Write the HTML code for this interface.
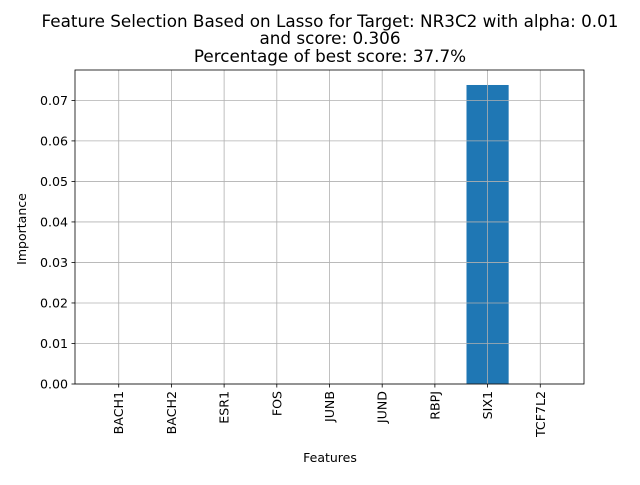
<!DOCTYPE html>
<html><head><meta charset="utf-8"><style>
body{margin:0;background:#fff;font-family:"Liberation Sans","DejaVu Sans",sans-serif;}
svg text{font-family:"DejaVu Sans","Liberation Sans",sans-serif;}
</style></head><body>
<svg id="chart" width="640" height="480">
<text x="330" y="27" font-size="16.8" text-anchor="middle">Feature Selection Based on Lasso for Target: NR3C2 with alpha: 0.01</text>
<text x="330" y="44" font-size="16.8" text-anchor="middle">and score: 0.306</text>
<text x="330" y="62" font-size="16.8" text-anchor="middle">Percentage of best score: 37.7%</text>
<g id="plot"></g>
<text x="330" y="462" font-size="12.5" text-anchor="middle">Features</text>
<text x="26" y="229" font-size="12.5" text-anchor="middle" transform="rotate(-90 26 229)">Importance</text>
</svg>
<script>
const categories=["BACH1","BACH2","ESR1","FOS","JUNB","JUND","RBPJ","SIX1","TCF7L2"];
const values=[0,0,0,0,0,0,0,0.0738,0];
const yTicks=[0,0.01,0.02,0.03,0.04,0.05,0.06,0.07];
const yTickLabels=["0.00","0.01","0.02","0.03","0.04","0.05","0.06","0.07"];
const L=75,R=584,T=70,B=384,yMax=0.0775;
const NS="http://www.w3.org/2000/svg";
const g=document.getElementById('plot');
const n=categories.length;
const step=(R-L)/(n+0.66);
const xc=i=>L+step*(0.83+i);
const y=v=>B-(v/yMax)*(B-T);
function mk(t,a){const e=document.createElementNS(NS,t);for(const k in a)e.setAttribute(k,a[k]);g.appendChild(e);return e;}
values.forEach((v,i)=>{
 const r=mk('rect',{x:xc(i)-step*0.4,y:y(v),width:step*0.8,height:B-y(v),fill:'#1f77b4'});
 
 
});
yTicks.forEach((t,i)=>{
 const l=mk('line',{x1:L,x2:R,y1:y(t),y2:y(t),stroke:'#b0b0b0','stroke-width':0.8});
 
 
 mk('line',{x1:L-3.5,x2:L,y1:y(t),y2:y(t),stroke:'#000','stroke-width':0.8});
 const tx=mk('text',{x:L-7,y:y(t)+4.5,'font-size':12.6,'text-anchor':'end'});
 tx.textContent=yTickLabels[i];
 
 
});
categories.forEach((c,i)=>{
 const x=xc(i);
 const l=mk('line',{x1:x,x2:x,y1:T,y2:B,stroke:'#b0b0b0','stroke-width':0.8});
 
 
 mk('line',{x1:x,x2:x,y1:B,y2:B+3.5,stroke:'#000','stroke-width':0.8});
 const tx=mk('text',{x:x+4.5,y:B+7,'font-size':12.6,'text-anchor':'end',transform:`rotate(-90 ${x+4.5} ${B+7})`});
 tx.textContent=c;
 
 
});
const f=mk('rect',{x:L,y:T,width:R-L,height:B-T,fill:'none',stroke:'#000','stroke-width':0.8});


</script>
</body></html>
